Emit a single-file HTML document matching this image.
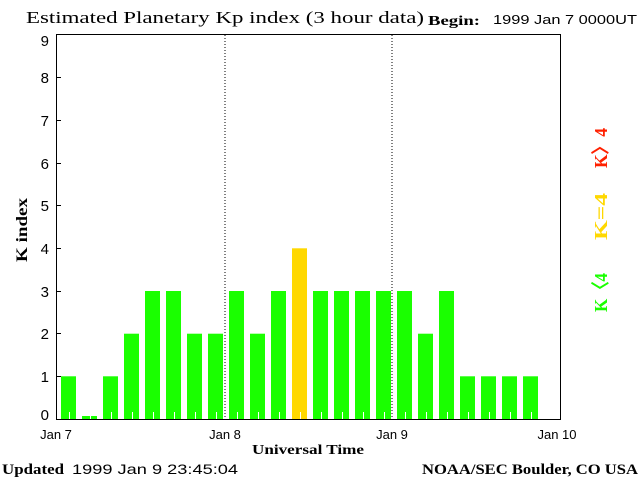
<!DOCTYPE html>
<html><head><style>body{margin:0;background:#fff}svg{display:block}</style></head><body>
<svg width="640" height="480" xmlns="http://www.w3.org/2000/svg">
<rect width="640" height="480" fill="#fff"/>
<text x="26" y="23" font-family="Liberation Serif, serif" font-size="17" textLength="398" lengthAdjust="spacingAndGlyphs" fill="#000">Estimated Planetary Kp index (3 hour data)</text>
<text x="428" y="25" font-family="Liberation Serif, serif" font-weight="bold" font-size="14" textLength="52" lengthAdjust="spacingAndGlyphs">Begin:</text>
<text x="493" y="24" font-family="Liberation Sans, sans-serif" font-size="13" textLength="144" lengthAdjust="spacingAndGlyphs">1999 Jan 7 0000UT</text>
<g fill="#1aff00">
<rect x="61" y="376.3" width="15" height="42.7"/>
<rect x="82" y="416" width="15" height="3"/>
<rect x="103" y="376.3" width="15" height="42.7"/>
<rect x="124" y="333.7" width="15" height="85.3"/>
<rect x="145" y="291" width="15" height="128"/>
<rect x="166" y="291" width="15" height="128"/>
<rect x="187" y="333.7" width="15" height="85.3"/>
<rect x="208" y="333.7" width="15" height="85.3"/>
<rect x="229" y="291" width="15" height="128"/>
<rect x="250" y="333.7" width="15" height="85.3"/>
<rect x="271" y="291" width="15" height="128"/>
<rect x="292" y="248.3" width="15" height="170.7" fill="#ffd800"/>
<rect x="313" y="291" width="15" height="128"/>
<rect x="334" y="291" width="15" height="128"/>
<rect x="355" y="291" width="15" height="128"/>
<rect x="376" y="291" width="15" height="128"/>
<rect x="397" y="291" width="15" height="128"/>
<rect x="418" y="333.7" width="15" height="85.3"/>
<rect x="439" y="291" width="15" height="128"/>
<rect x="460" y="376.3" width="15" height="42.7"/>
<rect x="481" y="376.3" width="15" height="42.7"/>
<rect x="502" y="376.3" width="15" height="42.7"/>
<rect x="523" y="376.3" width="15" height="42.7"/>
</g>
<path stroke="#fff" stroke-width="1" d="M69.5 412V419M90.5 412V419M111.5 412V419M132.5 412V419M153.5 412V419M174.5 412V419M195.5 412V419M216.5 412V419M237.5 412V419M258.5 412V419M279.5 412V419M300.5 412V419M321.5 412V419M342.5 412V419M363.5 412V419M384.5 412V419M405.5 412V419M426.5 412V419M447.5 412V419M468.5 412V419M489.5 412V419M510.5 412V419M531.5 412V419"/>
<path stroke="#000" stroke-width="1" d="M56 376.5H61M56 333.5H61M56 291.5H61M56 248.5H61M56 205.5H61M56 163.5H61M56 120.5H61M56 77.5H61"/>
<g font-family="Liberation Sans, sans-serif" font-size="15" text-anchor="end">
<text x="49" y="420">0</text><text x="49" y="382">1</text><text x="49" y="339">2</text><text x="49" y="297">3</text><text x="49" y="254">4</text><text x="49" y="211">5</text><text x="49" y="169">6</text><text x="49" y="126">7</text><text x="49" y="83">8</text><text x="49" y="46">9</text>
</g>
<line x1="225" y1="35" x2="225" y2="419" stroke="#000" stroke-dasharray="1,2"/>
<line x1="392" y1="35" x2="392" y2="419" stroke="#000" stroke-dasharray="1,2"/>
<rect x="56.5" y="34.5" width="504" height="385" fill="none" stroke="#000" stroke-width="1"/>
<g font-family="Liberation Sans, sans-serif" font-size="13" text-anchor="middle">
<text x="56" y="439">Jan 7</text><text x="225" y="439">Jan 8</text><text x="392" y="439">Jan 9</text><text x="557" y="439">Jan 10</text>
</g>
<text x="308" y="454" text-anchor="middle" font-family="Liberation Serif, serif" font-weight="bold" font-size="14" textLength="112" lengthAdjust="spacingAndGlyphs">Universal Time</text>
<text x="0" y="0" transform="translate(27,230) rotate(-90)" text-anchor="middle" font-family="Liberation Serif, serif" font-weight="bold" font-size="16" textLength="64" lengthAdjust="spacingAndGlyphs">K index</text>
<text x="2" y="474" font-family="Liberation Serif, serif" font-weight="bold" font-size="15" textLength="62" lengthAdjust="spacingAndGlyphs">Updated</text>
<text x="72" y="474" font-family="Liberation Sans, sans-serif" font-size="14" textLength="166" lengthAdjust="spacingAndGlyphs">1999 Jan  9 23:45:04</text>
<text x="638" y="474" text-anchor="end" font-family="Liberation Serif, serif" font-weight="bold" font-size="15" textLength="216" lengthAdjust="spacingAndGlyphs">NOAA/SEC Boulder, CO USA</text>
<g font-family="Liberation Serif, serif" font-weight="bold" font-size="18">
<text transform="translate(607,168) rotate(-90)" fill="#ff2000" textLength="40" lengthAdjust="spacingAndGlyphs">K〉4</text>
<text transform="translate(607,240) rotate(-90)" fill="#ffd800" textLength="47" lengthAdjust="spacingAndGlyphs">K=4</text>
<text transform="translate(607,312) rotate(-90)" fill="#1aff00" textLength="39" lengthAdjust="spacingAndGlyphs">K〈4</text>
</g>
</svg>
</body></html>
